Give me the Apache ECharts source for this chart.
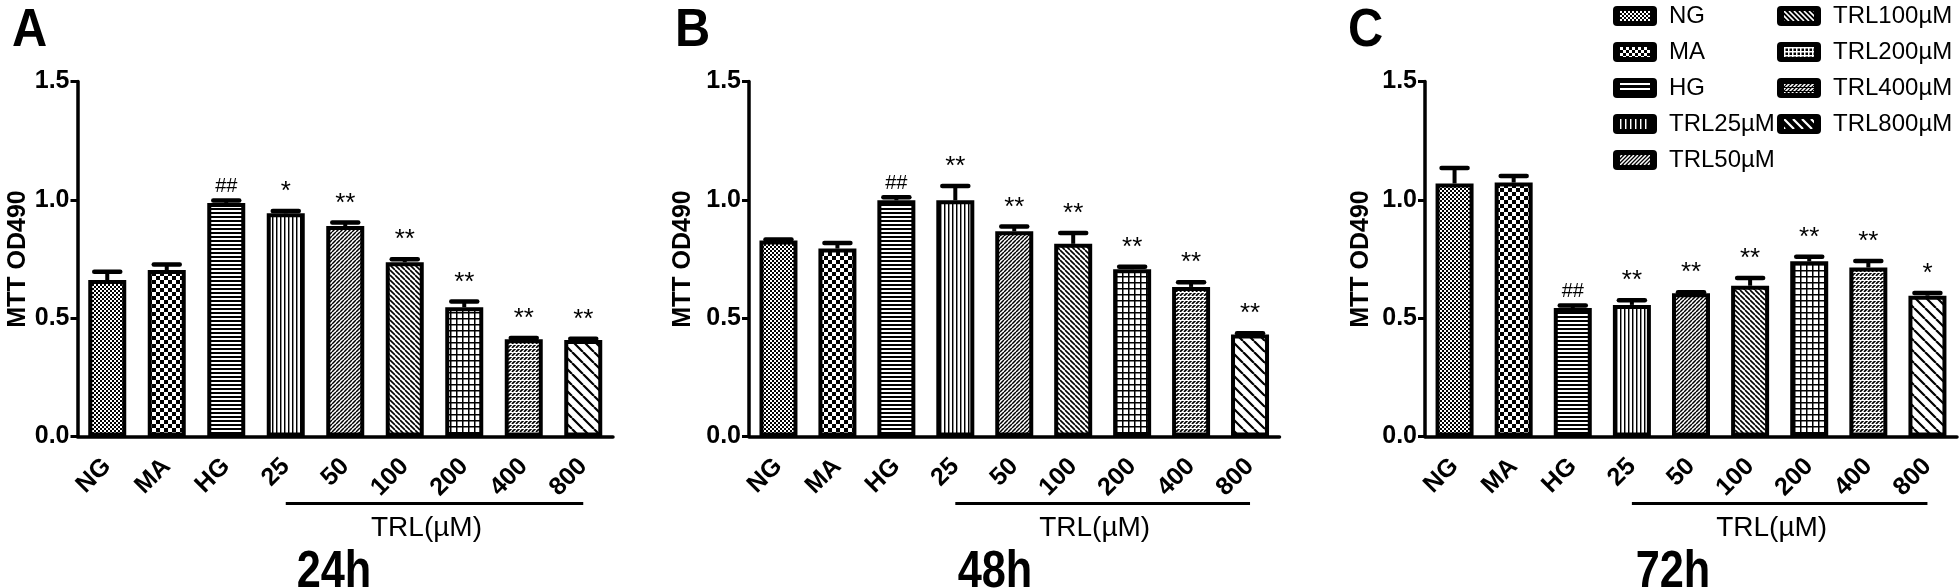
<!DOCTYPE html>
<html><head><meta charset="utf-8">
<script src="https://cdn.jsdelivr.net/npm/echarts@6/dist/echarts.min.js"></script>
<style>html,body{margin:0;padding:0;background:#fff}#c{width:1960px;height:588px}</style>
</head><body><div id="c"></div>
<script>
// ---------- data ----------
const categories = ['NG','MA','HG','25','50','100','200','400','800'];
const legendNames = ['NG','MA','HG','TRL25µM','TRL50µM','TRL100µM','TRL200µM','TRL400µM','TRL800µM'];
const yTicks = ['0.0','0.5','1.0','1.5'];
const panelLetters = ['A','B','C'];
const panelTimes = ['24h','48h','72h'];
const groupLabel = 'TRL(µM)';
const yTitle = 'MTT OD490';

const mean24 = [0.661,0.703,0.987,0.943,0.889,0.736,0.546,0.411,0.408];
const err24  = [0.035,0.024,0.010,0.010,0.015,0.013,0.024,0.005,0.005];
const sig24  = ['','','##','*','**','**','**','**','**'];

const mean48 = [0.828,0.794,0.998,0.998,0.867,0.814,0.707,0.632,0.431];
const err48  = [0.004,0.024,0.013,0.060,0.020,0.046,0.010,0.020,0.005];
const sig48  = ['','','##','**','**','**','**','**','**'];

const mean72 = [1.069,1.073,0.543,0.556,0.605,0.637,0.740,0.714,0.595];
const err72  = [0.066,0.028,0.010,0.020,0.005,0.033,0.020,0.028,0.011];
const sig72  = ['','','##','**','**','**','**','**','*'];

const means = [mean24, mean48, mean72];
const errs = [err24, err48, err72];
const sigs = [sig24, sig48, sig72];

// ---------- style ----------
const FONT_B = "'Liberation Sans',Arial,sans-serif";
const FONT_R = "'Liberation Sans',Arial,sans-serif";
const patternKinds = ['fineCheck','check','hlines','vlines','diagF','diagB','grid','diagDash','diagBs'];
const grids = [
  {left: 77.5, top: 81.5, width: 535.5, height: 355},
  {left: 749,  top: 81.5, width: 530.5, height: 355},
  {left: 1425, top: 81.5, width: 532,   height: 355}
];
const yNameGaps = [46, 53, 51];

function drawPattern(g, kind, s, fg, bg, w, h) {
  g.fillStyle = bg; g.fillRect(0, 0, w, h);
  g.fillStyle = fg; g.strokeStyle = fg;
  const diag = (fwd, lw) => {
    g.lineWidth = lw; g.beginPath();
    for (let k = -Math.ceil(h / s) - 1; k <= Math.ceil(w / s) + 1; k++) {
      if (fwd) { g.moveTo(k*s, h); g.lineTo(k*s + h, 0); }
      else { g.moveTo(k*s, 0); g.lineTo(k*s + h, h); }
    }
    g.stroke();
  };
  const rows = (th) => { for (let y = 0; y < h; y += s) g.fillRect(0, y, w, th); };
  const cols = (th) => { for (let x = 0; x < w; x += s) g.fillRect(x, 0, th, h); };
  switch (kind) {
    case 'fineCheck': case 'check': {
      const q = s / 2;
      for (let y = 0; y < h; y += q) for (let x = 0; x < w; x += q)
        if (((x / q) + (y / q)) % 2 === 0) g.fillRect(x, y, q, q);
      break;
    }
    case 'hlines': rows(2); break;
    case 'vlines': cols(1); g.globalAlpha = 0.45; for (let x = 1; x < w; x += s) g.fillRect(x, 0, 1, h); g.globalAlpha = 1; break;
    case 'diagF': diag(true, 1.5); break;
    case 'diagB': diag(false, 1.6); break;
    case 'grid': rows(1); cols(1); g.globalAlpha = 0.5;
      for (let y = 1; y < h; y += s) g.fillRect(0, y, w, 1);
      for (let x = 1; x < w; x += s) g.fillRect(x, 0, 1, h); g.globalAlpha = 1; break;
    case 'diagDash': diag(true, 1.6); g.fillStyle = bg; rows(1); break;
    case 'diagBs': diag(false, 2.2); break;
  }
}
const periods = {fineCheck:4, check:8, hlines:4, vlines:4, diagF:4, diagB:5, grid:6, diagDash:4, diagBs:11};
function makePattern(kind) {
  const s = periods[kind];
  const c = document.createElement('canvas');
  c.width = s; c.height = s;
  drawPattern(c.getContext('2d'), kind, s, '#000', '#fff', s, s);
  return {image: c, repeat: 'repeat'};
}
const iconPeriods = {fineCheck:4, check:6, hlines:5, vlines:5, diagF:4, diagB:5, grid:4, diagDash:4, diagBs:9};
const ICON_W = 44, ICON_H = 20;
function makeIcon(kind) {
  const W = ICON_W, H = ICON_H;
  const c = document.createElement('canvas');
  c.width = W; c.height = H;
  const g = c.getContext('2d');
  g.fillStyle = '#000';
  g.beginPath();
  if (g.roundRect) g.roundRect(0, 0, W, H, 4); else g.rect(0, 0, W, H);
  g.fill();
  const inner = document.createElement('canvas');
  inner.width = W - 14; inner.height = H - 10;
  const ig = inner.getContext('2d');
  drawPattern(ig, kind, iconPeriods[kind], '#fff', '#000', inner.width, inner.height);
  g.drawImage(inner, 7, 5);
  return 'image://' + c.toDataURL();
}
const barFills = patternKinds.map(makePattern);
const legendIcons = patternKinds.map(makeIcon);

// ---------- series ----------
const series = [];
for (let p = 0; p < 3; p++) {
  for (let t = 0; t < categories.length; t++) {
    series.push({
      type: 'bar', name: legendNames[t], xAxisIndex: p, yAxisIndex: p,
      barWidth: 38, barGap: '-100%',
      data: categories.map((c, i) => i === t ? means[p][i] : '-'),
      itemStyle: {color: barFills[t], borderColor: '#000', borderWidth: 4},
      emphasis: {disabled: true}, silent: true
    });
  }
  series.push({
    type: 'custom', xAxisIndex: p, yAxisIndex: p, silent: true, z: 5,
    data: categories.map((c, i) => [i, means[p][i], errs[p][i]]),
    renderItem: (params, api) => {
      const x = api.value(0), m = api.value(1), e = api.value(2);
      const top = api.coord([x, m]);
      const hi = api.coord([x, m + e]);
      const capW = 26;
      const s = sigs[p][params.dataIndex];
      const children = [
        {type: 'line', shape: {x1: top[0], y1: top[1], x2: hi[0], y2: hi[1]}, style: {stroke: '#000', lineWidth: 4}},
        {type: 'line', shape: {x1: hi[0] - capW/2, y1: hi[1], x2: hi[0] + capW/2, y2: hi[1]}, style: {stroke: '#000', lineWidth: 4.5, lineCap: 'round'}}
      ];
      if (s) {
        const isHash = s.indexOf('#') >= 0;
        children.push({type: 'text', x: hi[0], y: hi[1] - (isHash ? 14 : 6),
          style: {text: s, fill: '#000', font: (isHash ? '20px ' : '26px ') + FONT_R,
                  align: 'center', verticalAlign: isHash ? 'middle' : 'bottom'}});
      }
      return {type: 'group', children};
    }
  });
  series.push({
    type: 'custom', xAxisIndex: p, yAxisIndex: p, silent: true, clip: false,
    data: [[3, 8]],
    renderItem: (params, api) => {
      const a = api.coord([api.value(0), 0]);
      const b = api.coord([api.value(1), 0]);
      const y = a[1] + 67;
      return {type: 'group', children: [
        {type: 'line', shape: {x1: a[0], y1: y, x2: b[0], y2: y}, style: {stroke: '#000', lineWidth: 3}},
        {type: 'text', x: (a[0] + b[0]) / 2 - 8, y: y + 25,
         style: {text: groupLabel, fill: '#000', font: '28px ' + FONT_R, align: 'center', verticalAlign: 'middle'}}
      ]};
    }
  });
}

const axisLineStyle = {color: '#000', width: 3.5};
const xAxes = grids.map((g, p) => ({
  type: 'category', gridIndex: p, data: categories,
  axisLine: {lineStyle: axisLineStyle},
  axisTick: {alignWithLabel: true, length: 7, lineStyle: {color: '#000', width: 3}},
  axisLabel: {rotate: 45, margin: 26, color: '#000', fontFamily: FONT_B, fontWeight: 'bold', fontSize: 25, interval: 0}
}));
const yAxes = grids.map((g, p) => ({
  type: 'value', gridIndex: p, min: 0, max: 1.5, interval: 0.5,
  splitLine: {show: false},
  axisLine: {show: true, lineStyle: axisLineStyle},
  axisTick: {show: true, length: 7, lineStyle: {color: '#000', width: 3}},
  axisLabel: {color: '#000', fontFamily: FONT_B, fontWeight: 'bold', fontSize: 25, margin: 8,
              formatter: v => yTicks[Math.round(v / 0.5)]},
  name: yTitle, nameLocation: 'middle', nameRotate: 90, nameGap: yNameGaps[p],
  nameTextStyle: {color: '#000', fontFamily: FONT_B, fontWeight: 'bold', fontSize: 25}
}));

const legendCommon = {
  orient: 'vertical', top: 4, padding: 0, itemWidth: ICON_W, itemHeight: ICON_H, itemGap: 12,
  selectedMode: false,
  textStyle: {color: '#000', fontFamily: FONT_R, fontSize: 24, lineHeight: 24, padding: [0, 0, 0, 7]}
};
const legendItem = t => ({name: legendNames[t], icon: legendIcons[t]});

const letterX = [12, 675, 1348];
const timeX = [334, 995, 1673];
const graphics = [];
for (let p = 0; p < 3; p++) {
  graphics.push({type: 'text', x: letterX[p], y: 31, scaleX: 0.92, silent: true,
    style: {text: panelLetters[p], fill: '#000', font: 'bold 53px ' + FONT_B, align: 'left', verticalAlign: 'middle'}});
  graphics.push({type: 'text', x: timeX[p], y: 573, scaleX: 0.85, silent: true,
    style: {text: panelTimes[p], fill: '#000', font: 'bold 51px ' + FONT_B, align: 'center', verticalAlign: 'middle'}});
}

const chart = echarts.init(document.getElementById('c'), null, {renderer: 'canvas'});
chart.setOption({
  animation: false,
  backgroundColor: '#fff',
  grid: grids,
  xAxis: xAxes,
  yAxis: yAxes,
  legend: [
    Object.assign({}, legendCommon, {left: 1613, data: [0,1,2,3,4].map(legendItem)}),
    Object.assign({}, legendCommon, {left: 1777, data: [5,6,7,8].map(legendItem)})
  ],
  graphic: graphics,
  series: series
});
</script></body></html>
